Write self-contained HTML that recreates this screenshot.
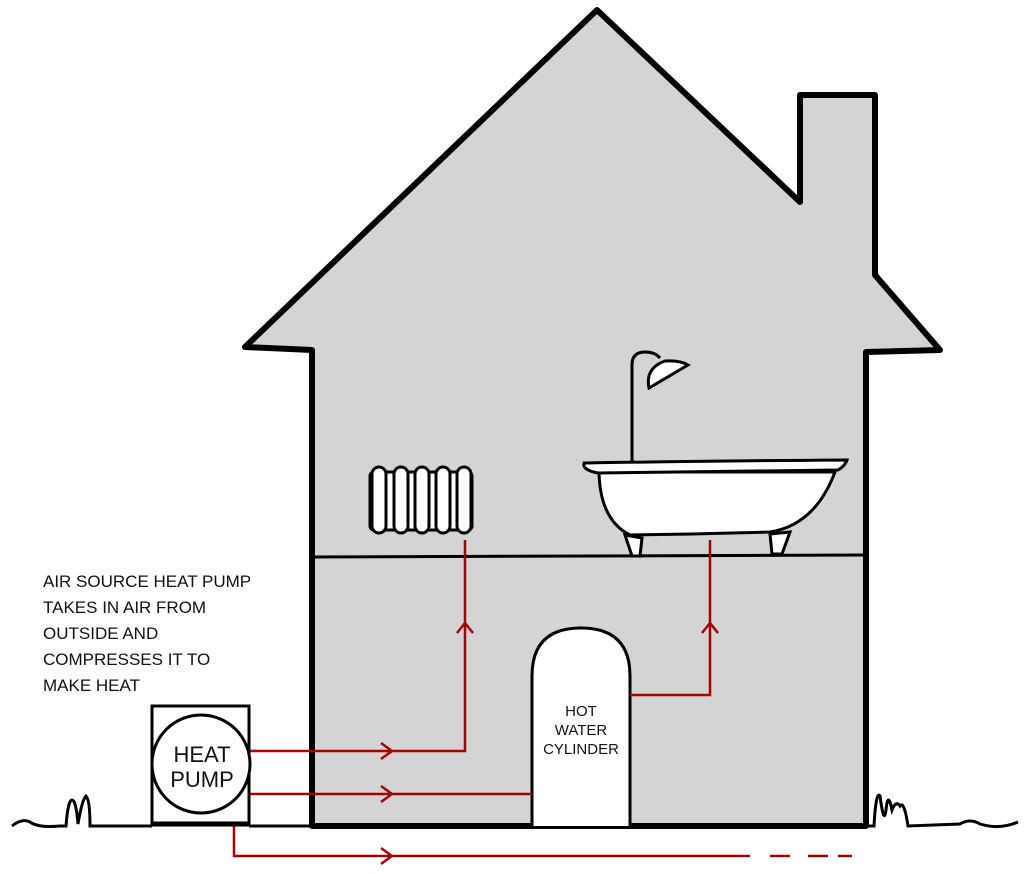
<!DOCTYPE html>
<html><head><style>body{margin:0;background:#fff}svg{display:block}</style></head><body>
<svg width="1034" height="874" viewBox="0 0 1034 874" xmlns="http://www.w3.org/2000/svg" font-family="Liberation Sans, sans-serif">
<polygon points="597,10 800,202 800,95 875,95 875,275 940,350 866,352 866,826 312,826 312,350 245,347" fill="#d4d4d4" stroke="#000" stroke-width="6" stroke-linejoin="round"/>
<line x1="312" y1="557" x2="866" y2="555" stroke="#000" stroke-width="3"/>
<!-- ground -->
<path d="M12,826 Q22,818 30,822 Q38,828 60,826 L66,826 Q68,800 72,800 Q76,800 78,824 Q82,800 86,796 Q90,800 90,826 L152,826 M249,826 L312,826 M866,826 L874,826 Q876,790 880,796 Q884,826 886,810 Q888,790 892,810 Q896,800 900,806 Q904,800 908,826 L960,824 Q970,818 980,824 Q1000,830 1018,822" fill="none" stroke="#000" stroke-width="3"/>
<!-- radiator -->
<g fill="#fff" stroke="#000" stroke-width="3">
<rect x="370" y="472" width="102" height="58" rx="4"/>
<rect x="372" y="467" width="14" height="66" rx="7"/>
<rect x="394" y="467" width="14" height="66" rx="7"/>
<rect x="415" y="467" width="14" height="66" rx="7"/>
<rect x="436" y="467" width="14" height="66" rx="7"/>
<rect x="457" y="467" width="14" height="66" rx="7"/>
</g>
<!-- shower -->
<path d="M632,465 L632,365 Q632,352 645,352 Q655,352 660,358" fill="none" stroke="#000" stroke-width="3"/>
<path d="M649,388 Q645,368 665,361 Q680,360 688,365 Z" fill="#fff" stroke="#000" stroke-width="3"/>
<!-- bath -->
<path d="M625,535 L632,556 L640,556 L642,538 Z M770,534 L772,554 L782,554 L790,532 Z" fill="#fff" stroke="#000" stroke-width="3"/>
<path d="M599,472 Q600,520 630,535 Q700,534 770,532 Q815,525 835,472 Z" fill="#fff" stroke="#000" stroke-width="3"/>
<path d="M584,463 Q700,461 847,460 Q845,466 838,470 Q700,472 598,473 Q582,470 584,463 Z" fill="#fff" stroke="#000" stroke-width="3"/>
<!-- cylinder -->
<path d="M532,826 L532,676 Q532,628 581,628 Q630,628 630,676 L630,826" fill="#fff" stroke="#000" stroke-width="3"/>
<text x="581" y="716" text-anchor="middle" font-size="15" fill="#111">HOT</text>
<text x="581" y="735" text-anchor="middle" font-size="15" fill="#111">WATER</text>
<text x="581" y="754" text-anchor="middle" font-size="15" fill="#111">CYLINDER</text>
<!-- pipes -->
<g fill="none" stroke="#a00000" stroke-width="2.5">
<path d="M249,751 L465,751 L465,540"/>
<path d="M249,794 L532,794"/>
<path d="M234,826 L234,856 L750,856"/>
<path d="M770,856 L790,856 M808,856 L828,856 M838,856 L852,856"/>
<path d="M630,695 L710,695 L710,540"/>
<path d="M381,743 L392,751 L381,759 M381,786 L392,794 L381,802 M381,848 L392,856 L381,864 M457,633 L465,623 L473,633 M702,633 L710,623 L718,633"/>
</g>
<!-- heat pump -->
<rect x="152" y="706" width="97" height="118" fill="#fff" stroke="#000" stroke-width="3"/>
<line x1="152" y1="824" x2="249" y2="824" stroke="#000" stroke-width="5"/>
<circle cx="201" cy="764" r="49" fill="#fff" stroke="#000" stroke-width="3"/>
<text x="202" y="762" text-anchor="middle" font-size="22" fill="#111">HEAT</text>
<text x="202" y="787" text-anchor="middle" font-size="22" fill="#111">PUMP</text>
<g font-size="17" fill="#111">
<text x="43" y="587">AIR SOURCE HEAT PUMP</text>
<text x="43" y="613">TAKES IN AIR FROM</text>
<text x="43" y="639">OUTSIDE AND</text>
<text x="43" y="665">COMPRESSES IT TO</text>
<text x="43" y="691">MAKE HEAT</text>
</g>
</svg>
</body></html>
